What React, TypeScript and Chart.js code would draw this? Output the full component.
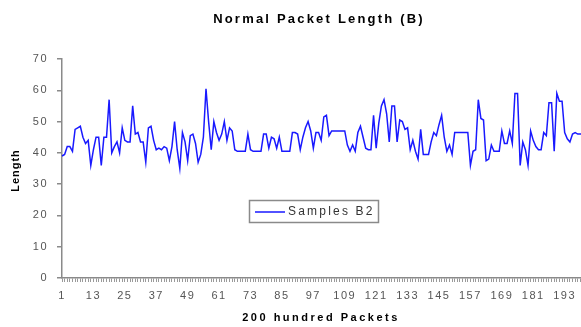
import React, { useEffect, useRef } from 'react';
import { Chart, registerables } from 'chart.js';

Chart.register(...registerables);

const FONT = '"Liberation Sans", Arial, sans-serif';

const categories: string[] = Array.from({ length: 200 }, (_, i) => String(i + 1));
const xTickLabels: string[] = ['1', '13', '25', '37', '49', '61', '73', '85', '97', '109', '121', '133', '145', '157', '169', '181', '193'];
const yTickValues: number[] = [0, 10, 20, 30, 40, 50, 60, 70];

const samplesB2: number[] = [
  39, 39.5, 42, 42, 40.5, 47.5, 48, 48.5, 45, 43, 44, 36, 41, 45, 45, 36, 45, 45, 57, 40,
  42, 43.5, 40, 48, 44, 43.5, 43.5, 55, 46, 46.5, 43.5, 43.5, 37, 48, 48.5, 44, 41, 41.5, 41, 42,
  41.5, 37.5, 42, 50, 41, 35, 46.5, 43.5, 37.5, 45.5, 46, 43, 37, 39.5, 45, 60.5, 50, 41, 50, 46.5,
  44, 46, 50, 44, 48, 47, 41, 40.5, 40.5, 40.5, 40.5, 46, 41, 40.5, 40.5, 40.5, 40.5, 46, 46, 41.5,
  45, 44.5, 41.5, 45, 40.5, 40.5, 40.5, 40.5, 46.5, 46.5, 46, 41, 45, 48, 50, 47, 41.5, 46.5, 46.5, 44,
  51.5, 52, 45.5, 47, 47, 47, 47, 47, 47, 42.5, 40.5, 42.5, 40.5, 46.5, 48.5, 45, 41.5, 41, 41, 52,
  41.5, 49.5, 55, 57, 52.5, 43.5, 55, 55, 43.5, 50.5, 50, 47.5, 48, 41, 44, 40.5, 38, 47.5, 39.5, 39.5,
  39.5, 43.5, 46.5, 45.5, 49, 52, 45, 40.5, 42.5, 39.5, 46.5, 46.5, 46.5, 46.5, 46.5, 46.5, 36, 40.5, 41, 57,
  51, 50.5, 37.5, 38, 42.5, 40.5, 40.5, 40.5, 47, 43, 43, 47, 43, 59, 59, 36, 43.5, 41, 36, 47,
  44, 42, 41, 41, 46.5, 45.5, 56, 56, 40.5, 59, 56.5, 56.5, 46.5, 44.5, 43.5, 46, 46.5, 46, 46, 46,
];

const chartTitle = 'Normal Packet Length (B)';
const xAxisTitle = '200 hundred Packets';
const yAxisTitle = 'Length';
const seriesName = 'Samples B2';
const lineColor = 'rgb(25, 25, 255)';

const spacingPlugin = {
  id: 'spacingPlugin',
  beforeDraw(chart: any) {
    (chart.ctx as any).letterSpacing = '1.5px';
  },
};

const decorPlugin = {
  id: 'decorPlugin',
  afterDraw(chart: any) {
    const ctx = chart.ctx as any;
    const area = chart.chartArea;
    ctx.save();
    ctx.textBaseline = 'middle';

    // Chart title
    ctx.fillStyle = '#000';
    ctx.textAlign = 'center';
    ctx.font = `bold 13px ${FONT}`;
    ctx.letterSpacing = '2.2px';
    ctx.fillText(chartTitle, 319, 19);

    // X axis title
    ctx.font = `bold 11px ${FONT}`;
    ctx.letterSpacing = '2.5px';
    ctx.fillText(xAxisTitle, 321, 318);

    // Y axis title
    ctx.save();
    ctx.translate(16, (area.top + area.bottom) / 2 + 2);
    ctx.rotate(-Math.PI / 2);
    ctx.letterSpacing = '1px';
    ctx.fillText(yAxisTitle, 0, 0);
    ctx.restore();

    // Legend box
    ctx.strokeStyle = '#8a8a8a';
    ctx.lineWidth = 1.5;
    ctx.strokeRect(249.5, 200.5, 129, 22);
    ctx.strokeStyle = lineColor;
    ctx.lineWidth = 1.5;
    ctx.beginPath();
    ctx.moveTo(255, 212);
    ctx.lineTo(285, 212);
    ctx.stroke();
    ctx.fillStyle = '#333';
    ctx.textAlign = 'left';
    ctx.font = `12px ${FONT}`;
    ctx.letterSpacing = '2.2px';
    ctx.fillText(seriesName, 288, 212);

    ctx.restore();
  },
};

export default function App() {
  const canvasRef = useRef<HTMLCanvasElement | null>(null);

  useEffect(() => {
    if (!canvasRef.current) return;
    const chart = new Chart(canvasRef.current, {
      type: 'line',
      data: {
        labels: categories,
        datasets: [
          {
            label: seriesName,
            data: samplesB2,
            borderColor: lineColor,
            backgroundColor: lineColor,
            borderWidth: 1.5,
            pointRadius: 0,
            tension: 0,
            fill: false,
          },
        ],
      },
      options: {
        animation: false,
        responsive: false,
        devicePixelRatio: 1,
        layout: { padding: { top: 59, left: 0, right: 3.6, bottom: 0 } },
        plugins: {
          legend: { display: false },
          title: { display: false },
          tooltip: { enabled: false },
        },
        scales: {
          x: {
            type: 'category',
            offset: false,
            afterFit: (scale: any) => {
              scale.height = 49;
            },
            grid: {
              display: true,
              drawOnChartArea: false,
              drawTicks: true,
              tickLength: 4,
              color: '#9a9a9a',
              lineWidth: 1,
              offset: false,
            },
            border: { display: true, color: '#8a8a8a', width: 1.5 },
            ticks: {
              autoSkip: false,
              maxRotation: 0,
              minRotation: 0,
              padding: 7,
              color: '#555',
              font: { family: FONT, size: 11 },
              callback: (_v: any, idx: number) =>
                xTickLabels.includes(categories[idx]) ? categories[idx] : '',
            },
          },
          y: {
            min: yTickValues[0],
            max: yTickValues[yTickValues.length - 1],
            afterFit: (scale: any) => {
              scale.width = 62;
            },
            afterBuildTicks: (scale: any) => {
              scale.ticks = yTickValues.map((v) => ({ value: v }));
            },
            grid: {
              display: true,
              drawOnChartArea: false,
              drawTicks: true,
              tickLength: 5,
              color: '#8a8a8a',
              lineWidth: 1.5,
            },
            border: { display: true, color: '#8a8a8a', width: 1.5 },
            ticks: {
              padding: 9,
              color: '#555',
              font: { family: FONT, size: 11 },
            },
          },
        },
      },
      plugins: [spacingPlugin, decorPlugin],
    } as any);
    return () => chart.destroy();
  }, []);

  return (
    <div style={{ position: 'fixed', left: 0, top: 0, width: 581, height: 327, overflow: 'hidden', background: '#fff' }}>
      <canvas ref={canvasRef} width={590} height={327} style={{ display: 'block' }} />
    </div>
  );
}
